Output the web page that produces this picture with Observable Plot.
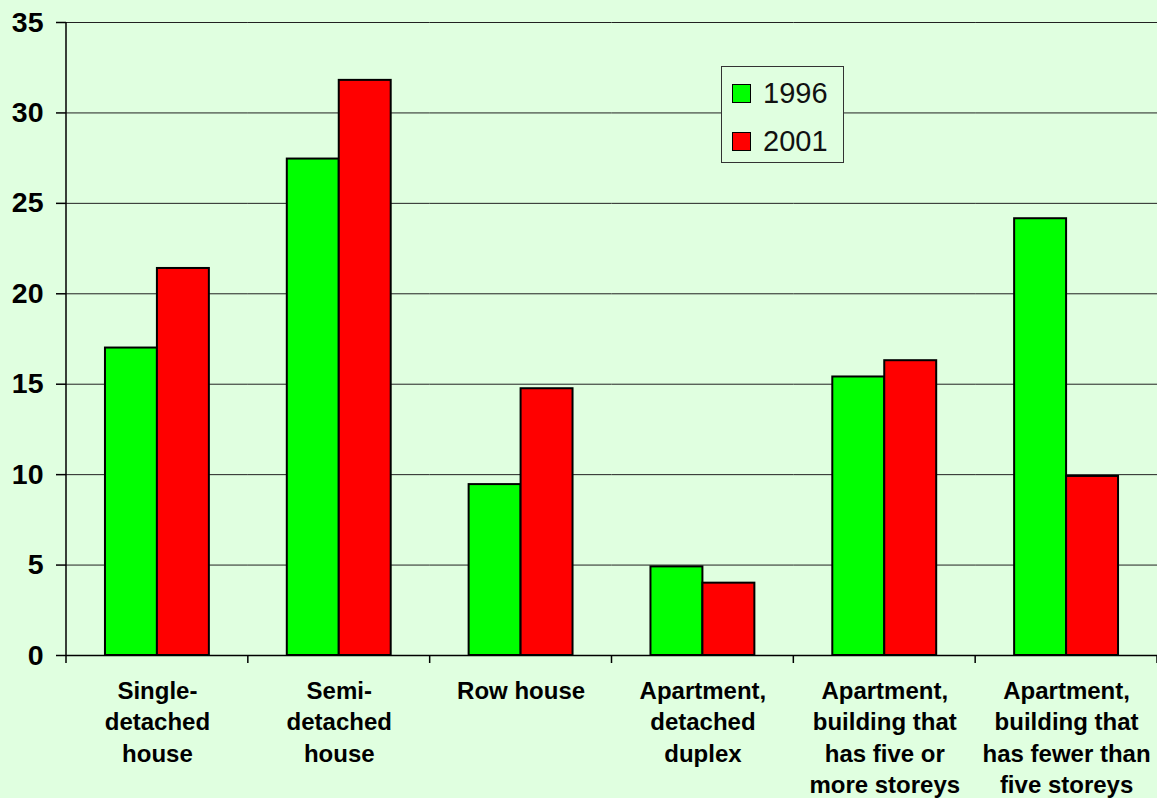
<!DOCTYPE html>
<html>
<head>
<meta charset="utf-8">
<script src="https://cdn.jsdelivr.net/npm/d3@7"></script>
<script src="https://cdn.jsdelivr.net/npm/@observablehq/plot@0.6"></script>
<style>
  html, body { margin: 0; padding: 0; background: #e0ffe0; }
  #wrap { position: relative; width: 1157px; height: 798px; font-family: "Liberation Sans", Arial, sans-serif; }
  #legend { position: absolute; left: 721px; top: 66px; width: 123px; height: 97px; box-sizing: border-box;
            border: 1px solid #333; background: #e0ffe0; }
  #legend .sw { position: absolute; left: 10px; width: 19px; height: 19px; box-sizing: border-box; border: 1.5px solid #000; }
  #legend .lb { position: absolute; left: 41px; height: 36px; line-height: 36px; font-size: 29px; color: #111; }
</style>
</head>
<body>
<div id="wrap">
  <div id="chart"></div>
  <div id="legend"></div>
</div>
<script>
// ---- data ----
const categories = [
  "Single-detached house",
  "Semi-detached house",
  "Row house",
  "Apartment, detached duplex",
  "Apartment, building that has five or more storeys",
  "Apartment, building that has fewer than five storeys"
];
const tickLabels = [
  "Single-\ndetached\nhouse",
  "Semi-\ndetached\nhouse",
  "Row house",
  "Apartment,\ndetached\nduplex",
  "Apartment,\nbuilding that\nhas five or\nmore storeys",
  "Apartment,\nbuilding that\nhas fewer than\nfive storeys"
];
const years = ["1996", "2001"];
const values1996 = [17.0, 27.45, 9.45, 4.9, 15.4, 24.15];
const values2001 = [21.4, 31.8, 14.75, 4.0, 16.3, 9.9];
const yTicks = [0, 5, 10, 15, 20, 25, 30, 35];
const colors = ["#00ff00", "#ff0000"];

const data = categories.flatMap((c, i) => [
  { category: c, year: years[0], value: values1996[i] },
  { category: c, year: years[1], value: values2001[i] }
]);
const labelOf = new Map(categories.map((c, i) => [c, tickLabels[i]]));

const chart = Plot.plot({
  width: 1157,
  height: 798,
  marginLeft: 66,
  marginRight: 0,
  marginTop: 22,
  marginBottom: 143,
  style: { background: "transparent", color: "#000", fontFamily: "'Liberation Sans', Arial, sans-serif" },
  fx: { domain: categories, padding: 0, round: false, axis: null },
  x: { domain: years, paddingInner: 0, paddingOuter: 0.75, round: false, axis: null },
  y: { domain: [0, 35], axis: null },
  color: { domain: years, range: colors },
  marks: [
    Plot.gridY(yTicks, { stroke: "#222", strokeOpacity: 1, strokeWidth: 1 }),
    Plot.barY(data, { fx: "category", x: "year", y: "value", fill: "year", stroke: "#000", strokeWidth: 2 }),
    Plot.ruleY([0], { stroke: "#000", strokeWidth: 1.5 }),
    Plot.axisY({ ticks: yTicks, tickSize: 10, tickPadding: 13, fontSize: 28.5, fontWeight: "bold", label: null, tickFormat: d => String(d), strokeWidth: 1.5 }),
    Plot.axisFx({ anchor: "bottom", tickSize: 0, tickPadding: 21, fontSize: 24, fontWeight: "bold", lineHeight: 1.31, label: null, tickFormat: d => labelOf.get(d) })
  ]
});

// y-axis line and category boundary ticks on the x axis
const fxs = chart.scale("fx"), ys = chart.scale("y");
const y0 = ys.apply(0), yTop = ys.apply(35);
const edges = categories.map(c => fxs.apply(c));
edges.push(edges[edges.length - 1] + fxs.bandwidth);
const svg = d3.select(chart);
const g = svg.append("g").attr("stroke", "#000").attr("stroke-width", 1.5);
g.append("line").attr("x1", edges[0]).attr("x2", edges[0]).attr("y1", yTop).attr("y2", y0);
edges.forEach(x => g.append("line").attr("x1", x).attr("x2", x).attr("y1", y0).attr("y2", y0 + 8));

document.getElementById("chart").appendChild(chart);

// legend
const legend = document.getElementById("legend");
years.forEach((yr, i) => {
  const sw = document.createElement("div");
  sw.className = "sw";
  sw.style.top = (17 + i * 48) + "px";
  sw.style.background = colors[i];
  legend.appendChild(sw);
  const lb = document.createElement("div");
  lb.className = "lb";
  lb.style.top = (8 + i * 48) + "px";
  lb.textContent = yr;
  legend.appendChild(lb);
});
</script>
</body>
</html>
